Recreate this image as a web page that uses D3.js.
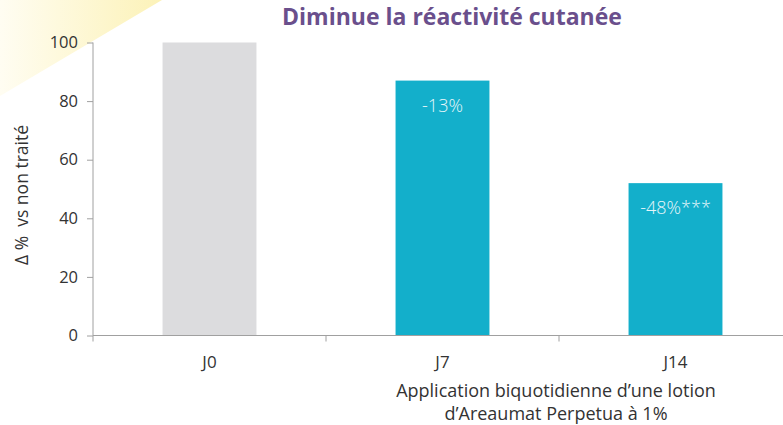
<!DOCTYPE html>
<html><head><meta charset="utf-8">
<script src="https://cdn.jsdelivr.net/npm/d3@7"></script>
<style>body{margin:0;background:#fff}svg{display:block}</style>
</head><body>
<svg id="c" width="783" height="425"></svg>
<script>
const categories = ["J0", "J7", "J14"];
const values = [100, 87, 52];
const labels = ["", "-13%", "-48%***"];
const yTicks = [0, 20, 40, 60, 80, 100];
const title = "Diminue la réactivité cutanée";
const yTitle = "Δ %  vs non traité";
const xTitle = ["Application biquotidienne d’une lotion", "d’Areaumat Perpetua à 1%"];
const barColors = ["#dcdcde", "#13afcb", "#13afcb"];

const svg = d3.select("#c");
const font = "'Open Sans', sans-serif";
const defs = svg.append("defs");
const g = defs.append("linearGradient").attr("id", "yg").attr("x1", 0).attr("x2", 1).attr("y1", 0).attr("y2", 0);
g.append("stop").attr("offset", "0%").attr("stop-color", "#fffdf2");
g.append("stop").attr("offset", "100%").attr("stop-color", "#fcf2b8");
svg.append("path").attr("d", "M0,0 L162,0 L0,96 Z").attr("fill", "url(#yg)");

const x0 = 93, step = 233;
const x = d3.scaleBand().domain(categories).range([x0, x0 + step * categories.length]).paddingInner(0.597).paddingOuter(0.2985);
const y = d3.scaleLinear().domain([0, 100]).range([335.5, 42.5]);

// bars
svg.selectAll("rect.bar").data(values).enter().append("rect")
  .attr("x", (d, i) => x(categories[i])).attr("width", x.bandwidth())
  .attr("y", d => y(d)).attr("height", d => y(0) - y(d))
  .attr("fill", (d, i) => barColors[i]);

svg.selectAll("text.lab").data(values).enter().append("text")
  .attr("x", (d, i) => x(categories[i]) + x.bandwidth() / 2)
  .attr("y", d => y(d) + 31)
  .attr("text-anchor", "middle").attr("fill", "#e6f6fa")
  .style("font-family", font).style("font-size", "18px").style("font-weight", "300")
  .text((d, i) => labels[i]);

// y axis
const yAxis = svg.append("g").attr("transform", `translate(${x0},0)`)
  .call(d3.axisLeft(y).tickValues(yTicks).tickSize(6).tickPadding(9));
yAxis.select(".domain").attr("stroke", "#a0a0a0").attr("d", `M0,${y(100)}V${y(0)}`);
yAxis.selectAll(".tick line").attr("stroke", "#a0a0a0");
yAxis.selectAll("text").style("font-family", font).style("font-size", "16.5px").attr("fill", "#333");

// x axis
const xTickPos = d3.range(categories.length + 1).map(i => x0 + i * step);
svg.append("line").attr("x1", x0).attr("x2", 783).attr("y1", y(0)).attr("y2", y(0)).attr("stroke", "#a0a0a0");
svg.selectAll("line.xt").data(xTickPos).enter().append("line")
  .attr("x1", d => d).attr("x2", d => d).attr("y1", y(0)).attr("y2", y(0) + 6).attr("stroke", "#a0a0a0");
svg.selectAll("text.xl").data(categories).enter().append("text")
  .attr("x", d => x(d) + x.bandwidth() / 2).attr("y", 368)
  .attr("text-anchor", "middle").attr("fill", "#333")
  .style("font-family", font).style("font-size", "17px").text(d => d);

svg.selectAll("text.xt2").data(xTitle).enter().append("text")
  .attr("x", 556).attr("y", (d, i) => 397 + i * 23)
  .attr("text-anchor", "middle").attr("fill", "#333")
  .style("font-family", font).style("font-size", "18px").text(d => d);

// y title
svg.append("text").attr("transform", "translate(28,195) rotate(-90)")
  .attr("text-anchor", "middle").attr("fill", "#333")
  .style("font-family", font).style("font-size", "17.5px").style("white-space", "pre")
  .attr("xml:space", "preserve").text(yTitle);

// title
svg.append("text").attr("x", 452).attr("y", 25).attr("text-anchor", "middle")
  .attr("fill", "#6a4f8c").style("font-family", font).style("font-size", "23px").style("font-weight", "bold")
  .text(title);
</script>
</body></html>
